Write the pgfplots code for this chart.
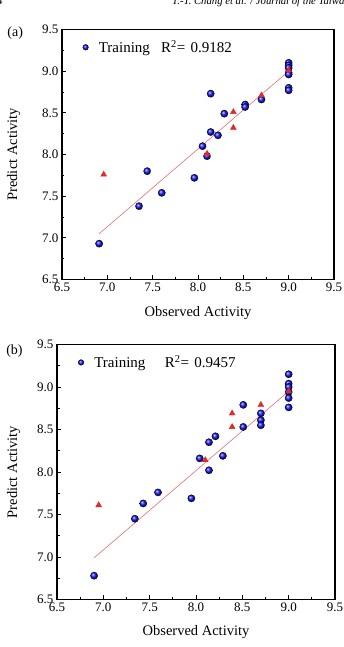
\documentclass[border=0pt]{standalone}
\usepackage{pgfplots}
\pgfplotsset{compat=1.18}
\usepackage{pgfplotstable}
\usepackage{fontspec}
\setmainfont{Liberation Serif}

% (a) training set and test set
\pgfplotstableread{
x y
6.91 6.93
7.35 7.38
7.44 7.80
7.60 7.54
7.96 7.72
8.05 8.10
8.10 7.98
8.14 8.27
8.14 8.73
8.22 8.23
8.29 8.49
8.52 8.60
8.52 8.57
8.70 8.66
9.00 9.10
9.00 9.07
9.00 9.04
9.00 8.98
9.00 8.96
9.00 8.80
9.00 8.77
}\trainA
\pgfplotstableread{
x y
6.96 7.76
8.10 8.01
8.39 8.51
8.39 8.32
8.70 8.71
9.00 9.01
}\testA
% (b) training set and test set
\pgfplotstableread{
x y
6.90 6.78
7.34 7.45
7.43 7.63
7.59 7.76
7.95 7.69
8.04 8.16
8.14 8.35
8.14 8.02
8.21 8.42
8.29 8.19
8.51 8.79
8.51 8.53
8.70 8.69
8.70 8.61
8.70 8.55
9.00 9.15
9.00 9.04
9.00 9.00
9.00 8.94
9.00 8.87
9.00 8.76
}\trainB
\pgfplotstableread{
x y
6.95 7.61
8.10 8.14
8.39 8.69
8.39 8.53
8.70 8.79
9.00 8.95
}\testB

\definecolor{fitred}{RGB}{232,110,110}
\definecolor{tri}{RGB}{228,40,40}

\pgfplotsset{
  qsar/.style={
    scale only axis,
    xmin=6.5, xmax=9.5, ymin=6.5, ymax=9.5,
    xtick={6.5,7.0,...,9.5}, ytick={6.5,7.0,...,9.5},
    minor x tick num=1, minor y tick num=1,
    xtick pos=bottom, ytick pos=left,
    tick align=inside,
    major tick length=4pt, minor tick length=2.5pt,
    axis line style={line width=1.1pt},
    every tick/.style={black, line width=0.8pt},
    /pgf/number format/fixed, /pgf/number format/fixed zerofill,
    /pgf/number format/precision=1,
    /pgf/number format/assume math mode=true,
    tick label style={font=\fontsize{13}{15}\selectfont},
    label style={font=\fontsize{14.5}{17}\selectfont},
    xlabel={Observed Activity}, ylabel={Predict Activity},
    legend style={draw=none, fill=none, anchor=north west,
      font=\fontsize{15}{17}\selectfont, inner sep=0pt},
    legend cell align=left,
    legend image post style={mark size=2.8pt},
    clip=false,
  },
  trainmk/.style={only marks, mark=ball, mark size=3.6pt,
    mark options={ball color=blue!92!white}},
  testmk/.style={only marks, mark=triangle*, mark size=3.4pt,
    mark options={fill=tri, draw=tri, line width=0.4pt}},
}

\begin{document}
\begin{tikzpicture}
\path[use as bounding box] (0pt,0pt) rectangle (343pt,647pt);

% running head
\node[anchor=base west, inner sep=0pt, font=\fontsize{10.7}{12}\selectfont\itshape]
  at (172pt,642pt) {T.-T. Chang et al. / Journal of the Taiwan Institute of Chemical Engineers};
\node[anchor=base west, inner sep=0pt, font=\fontsize{10.7}{12}\selectfont] at (-3pt,642pt) {4};

% panel (a)
\begin{axis}[qsar, at={(62pt,367.5pt)}, anchor=south west, width=272pt, height=250pt,
  ylabel style={at={(axis description cs:-0.178,0.5)}, anchor=center},
  xlabel style={at={(axis description cs:0.5,-0.134)}, anchor=center},
  legend style={at={(axis description cs:0.075,0.965)}}]
\addplot[trainmk] table {\trainA};
\addlegendentry{\hspace*{0.55em}Training\hspace{0.75em}R\textsuperscript{2}=\hspace{0.35em}0.9182}
\addplot[no marks, fitred, line width=0.6pt, forget plot] coordinates {(6.91,7.05) (9.00,9.00)};
\addplot[testmk, forget plot] table {\testA};
\node[font=\fontsize{14}{16}\selectfont, anchor=center] at (axis description cs:-0.172,0.987) {(a)};
\end{axis}

% panel (b)
\begin{axis}[qsar, at={(57pt,47.5pt)}, anchor=south west, width=278pt, height=255pt,
  ylabel style={at={(axis description cs:-0.156,0.5)}, anchor=center},
  xlabel style={at={(axis description cs:0.5,-0.126)}, anchor=center},
  legend style={at={(axis description cs:0.075,0.965)}}]
\addplot[trainmk] table {\trainB};
\addlegendentry{\hspace*{0.55em}Training\hspace{1.3em}R\textsuperscript{2}=\hspace{0.35em}0.9457}
\addplot[no marks, fitred, line width=0.6pt, forget plot] coordinates {(6.90,6.99) (9.00,8.95)};
\addplot[testmk, forget plot] table {\testB};
\node[font=\fontsize{14}{16}\selectfont, anchor=center] at (axis description cs:-0.153,0.975) {(b)};
\end{axis}
\end{tikzpicture}
\end{document}
